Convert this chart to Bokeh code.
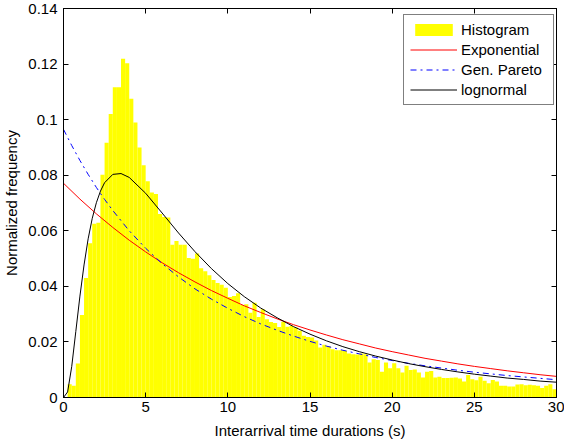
import numpy as np
from bokeh.plotting import figure
from bokeh.models import (Range1d, LinearAxis, FixedTicker, Legend, LegendItem,
                          CustomJSTickFormatter)
from bokeh.embed import file_html
from bokeh.resources import INLINE

# ---------------- data ----------------
BIN_WIDTH = 0.25
hist_freq = [
    0.0000, 0.0048, 0.0042, 0.0122, 0.0297, 0.0430, 0.0555, 0.0625, 0.0629, 0.0802,
    0.0917, 0.1020, 0.1117, 0.1117, 0.1219, 0.1203, 0.1075, 0.0990, 0.0900, 0.0836,
    0.0778, 0.0738, 0.0732, 0.0660, 0.0650, 0.0648, 0.0550, 0.0563, 0.0550, 0.0550,
    0.0502, 0.0499, 0.0518, 0.0465, 0.0454, 0.0440, 0.0423, 0.0412, 0.0406, 0.0395,
    0.0362, 0.0365, 0.0375, 0.0333, 0.0336, 0.0305, 0.0341, 0.0290, 0.0318, 0.0282,
    0.0272, 0.0268, 0.0254, 0.0273, 0.0255, 0.0258, 0.0252, 0.0240, 0.0222, 0.0218,
    0.0216, 0.0205, 0.0180, 0.0190, 0.0185, 0.0174, 0.0170, 0.0170, 0.0168, 0.0158,
    0.0156, 0.0155, 0.0158, 0.0156, 0.0126, 0.0138, 0.0135, 0.0093, 0.0126, 0.0105,
    0.0123, 0.0105, 0.0090, 0.0114, 0.0099, 0.0101, 0.0090, 0.0072, 0.0093, 0.0095,
    0.0072, 0.0075, 0.0070, 0.0070, 0.0071, 0.0072, 0.0068, 0.0058, 0.0081, 0.0066,
    0.0062, 0.0075, 0.0060, 0.0051, 0.0063, 0.0058, 0.0042, 0.0042, 0.0040, 0.0040,
    0.0047, 0.0048, 0.0044, 0.0046, 0.0044, 0.0042, 0.0034, 0.0042, 0.0048, 0.0030,
]

exp_x = [0, 1, 2, 3, 4, 5, 6, 7, 8, 9, 10, 11, 12, 13, 14, 15, 16, 17, 18, 19, 20,
         21, 22, 23, 24, 25, 26, 27, 28, 29, 30]
exp_y = [0.0771, 0.0714, 0.0661, 0.0612, 0.0566, 0.0524, 0.0485, 0.0449, 0.0416,
         0.0385, 0.0357, 0.0330, 0.0306, 0.0283, 0.0262, 0.0243, 0.0225, 0.0208,
         0.0193, 0.0178, 0.0165, 0.0153, 0.0141, 0.0131, 0.0121, 0.0112, 0.0104,
         0.0096, 0.0089, 0.0082, 0.0076]

gp_x = [0, 0.5, 1, 1.5, 2, 2.5, 3, 4, 5, 6, 7, 8, 9, 10, 11, 12, 13, 14, 15, 16,
        17, 18, 19, 20, 21, 22, 23, 24, 25, 26, 27, 28, 29, 30]
gp_y = [0.0965, 0.0907, 0.0853, 0.0803, 0.0756, 0.0713, 0.0673, 0.0600, 0.0537,
        0.0482, 0.0434, 0.0391, 0.0354, 0.0321, 0.0291, 0.0265, 0.0242, 0.0221,
        0.0202, 0.0185, 0.0170, 0.0157, 0.0144, 0.0133, 0.0123, 0.0114, 0.0106,
        0.0098, 0.0091, 0.0085, 0.0079, 0.0074, 0.0069, 0.0064]

logn_x = [0, 0.25, 0.5, 0.75, 1, 1.25, 1.5, 1.75, 2, 2.25, 2.5, 3, 3.5, 4, 5, 6, 7,
          8, 9, 10, 11, 12, 13, 14, 15, 16, 17, 18, 19, 20, 21, 22, 23, 24, 25, 26,
          27, 28, 29, 30]
logn_y = [0.0, 0.0020, 0.0111, 0.0238, 0.0365, 0.0477, 0.0571, 0.0645, 0.0701,
          0.0743, 0.0773, 0.0803, 0.0806, 0.0792, 0.0735, 0.0664, 0.0592, 0.0525,
          0.0464, 0.0410, 0.0363, 0.0322, 0.0287, 0.0255, 0.0228, 0.0204, 0.0183,
          0.0165, 0.0149, 0.0135, 0.0122, 0.0111, 0.0101, 0.0092, 0.0084, 0.0077,
          0.0070, 0.0065, 0.0059, 0.0055]

x_ticks = [0, 5, 10, 15, 20, 25, 30]
y_ticks = [0, 0.02, 0.04, 0.06, 0.08, 0.1, 0.12, 0.14]
y_tick_labels = ["0", "0.02", "0.04", "0.06", "0.08", "0.1", "0.12", "0.14"]

series_names = ["Histogram", "Exponential", "Gen. Pareto", "lognormal"]
x_label = "Interarrival time durations (s)"
y_label = "Normalized frequency"

# ---------------- figure ----------------
FONT = "Liberation Sans"
FS = "15px"

p = figure(width=564, height=441, x_range=Range1d(0, 30), y_range=Range1d(0, 0.14),
           output_backend="svg", toolbar_location=None,
           min_border_left=63, min_border_right=8, min_border_top=8,
           min_border_bottom=44, background_fill_color="white",
           border_fill_color="white")
p.grid.visible = False
p.outline_line_color = "black"
p.outline_line_width = 1
p.outline_line_alpha = 1

left_edges = [i * BIN_WIDTH for i in range(len(hist_freq))]
right_edges = [e + BIN_WIDTH for e in left_edges]

hist_r = p.quad(left=left_edges, right=right_edges, bottom=0, top=hist_freq,
                fill_color="#ffff00", line_color=None)
exp_r = p.line(exp_x, exp_y, line_color="#ff0000", line_width=1)
gp_r = p.line(gp_x, gp_y, line_color="#0000ff", line_width=1, line_dash="dashdot")
ln_r = p.line(logn_x, logn_y, line_color="black", line_width=1)


def style_axis(ax, ticks):
    ax.ticker = FixedTicker(ticks=ticks)
    ax.major_tick_in = 5
    ax.major_tick_out = 0
    ax.minor_tick_line_color = None
    ax.axis_line_color = "black"
    ax.major_tick_line_color = "black"
    ax.major_label_text_font = FONT
    ax.major_label_text_font_size = FS
    ax.major_label_text_color = "black"
    ax.axis_label_text_font = FONT
    ax.axis_label_text_font_size = FS
    ax.axis_label_text_font_style = "normal"
    ax.axis_label_text_color = "black"


xa = p.xaxis[0]
style_axis(xa, x_ticks)
xa.axis_label = x_label
xa.major_label_standoff = 4
xa.axis_label_standoff = 7

ya = p.yaxis[0]
style_axis(ya, y_ticks)
ya.axis_label = y_label
ya.major_label_overrides = {t: s for t, s in zip(y_ticks, y_tick_labels)}
ya.major_label_standoff = 6
ya.axis_label_standoff = 5

top_ax = LinearAxis(formatter=CustomJSTickFormatter(code="return ''"))
style_axis(top_ax, x_ticks)
top_ax.major_label_text_font_size = "0px"
top_ax.major_label_standoff = 0
p.add_layout(top_ax, "above")

right_ax = LinearAxis(formatter=CustomJSTickFormatter(code="return ''"))
style_axis(right_ax, y_ticks)
right_ax.major_label_text_font_size = "0px"
right_ax.major_label_standoff = 0
p.add_layout(right_ax, "right")

legend = Legend(items=[LegendItem(label=series_names[0], renderers=[hist_r]),
                       LegendItem(label=series_names[1], renderers=[exp_r]),
                       LegendItem(label=series_names[2], renderers=[gp_r]),
                       LegendItem(label=series_names[3], renderers=[ln_r])],
                location=(340, 292), margin=0, padding=6, spacing=3,
                glyph_width=47, glyph_height=15, label_height=17, label_width=86,
                label_standoff=4,
                label_text_font=FONT, label_text_font_size=FS,
                label_text_color="black",
                border_line_color="black", border_line_width=1,
                background_fill_color="white", background_fill_alpha=1)
p.add_layout(legend)

open("out.html", "w").write(file_html(p, INLINE))
